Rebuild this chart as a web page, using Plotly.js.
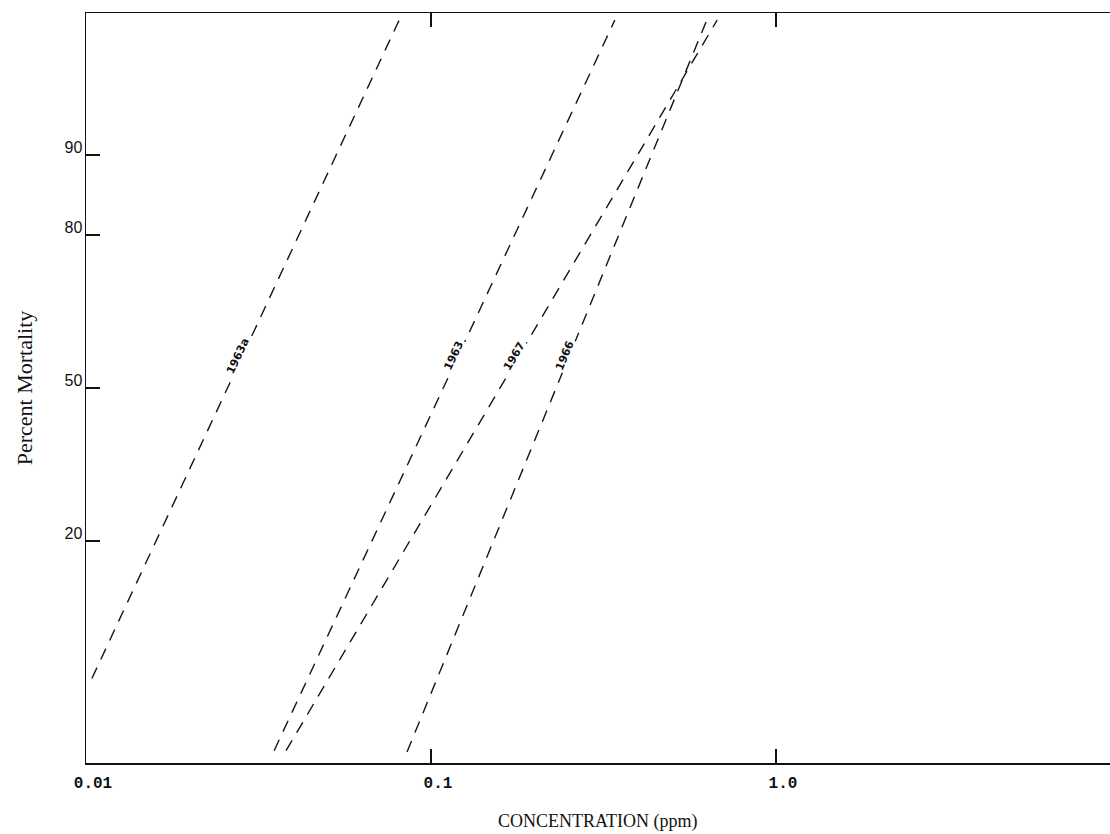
<!DOCTYPE html>
<html>
<head>
<meta charset="utf-8">
<script src="https://cdn.plot.ly/plotly-3.0.1.min.js"></script>
<style>
html,body{margin:0;padding:0;background:#fff;overflow:hidden;width:1110px;height:834px;}
#chart{width:1124px;height:834px;}
</style>
</head>
<body>
<div id="chart"></div>
<script>
// ---- data ----
const seriesNames = ['1963a', '1963', '1967', '1966'];
const conc1963a = [0.0104, 0.0813];
const pct1963a  = [5.5, 97.9];
const conc1963  = [0.0351, 0.341];
const pct1963   = [2.3, 97.85];
const conc1967  = [0.0380, 0.675];
const pct1967   = [2.3, 97.85];
const conc1966  = [0.0852, 0.627];
const pct1966   = [2.26, 97.8];

const xTickVals = [0.01, 0.1, 1];
const xTickText = ['0.01', '0.1', '1.0'];
const yTickPct  = [20, 50, 80, 90];
const yTickText = ['20', '50', '80', '90'];
const yRangePct = [1.955, 98.045];
const labelPct  = 57;

// inverse normal CDF (probit), Acklam's approximation
function probit(pct) {
  const p = pct / 100;
  const a = [-3.969683028665376e+01, 2.209460984245205e+02, -2.759285104469687e+02, 1.383577518672690e+02, -3.066479806614716e+01, 2.506628277459239e+00];
  const b = [-5.447609879822406e+01, 1.615858368580409e+02, -1.556989798598866e+02, 6.680131188771972e+01, -1.328068155288572e+01];
  const c = [-7.784894002430293e-03, -3.223964580411365e-01, -2.400758277161838e+00, -2.549732539343734e+00, 4.374664141464968e+00, 2.938163982698783e+00];
  const d = [7.784695709041462e-03, 3.224671290700398e-01, 2.445134137142996e+00, 3.754408661907416e+00];
  const pl = 0.02425, ph = 1 - pl;
  let q, r;
  if (p < pl) {
    q = Math.sqrt(-2 * Math.log(p));
    return (((((c[0]*q+c[1])*q+c[2])*q+c[3])*q+c[4])*q+c[5]) / ((((d[0]*q+d[1])*q+d[2])*q+d[3])*q+1);
  } else if (p <= ph) {
    q = p - 0.5; r = q * q;
    return (((((a[0]*r+a[1])*r+a[2])*r+a[3])*r+a[4])*r+a[5])*q / (((((b[0]*r+b[1])*r+b[2])*r+b[3])*r+b[4])*r+1);
  } else {
    q = Math.sqrt(-2 * Math.log(1 - p));
    return -(((((c[0]*q+c[1])*q+c[2])*q+c[3])*q+c[4])*q+c[5]) / ((((d[0]*q+d[1])*q+d[2])*q+d[3])*q+1);
  }
}

const allConc = [conc1963a, conc1963, conc1967, conc1966];
const allPct  = [pct1963a, pct1963, pct1967, pct1966];

// layout geometry (plot area runs past the right edge of the window, as in the scan)
const W = 1124, H = 834;
const mL = 86, mR = 0, mT = 13, mB = 71;
const plotW = W - mL - mR, plotH = H - mT - mB;
const xRangeLog = [-2, -2 + plotW / 345];
const yRange = [probit(yRangePct[0]), probit(yRangePct[1])];
const pxPerDecade = plotW / (xRangeLog[1] - xRangeLog[0]);
const pxPerZ = plotH / (yRange[1] - yRange[0]);
const titleShift = -(W - 1110) / 2;

const lineStyle = {color: '#151515', width: 1.4, dash: '12px,9px'};

const traces = seriesNames.map((name, i) => ({
  type: 'scatter',
  mode: 'lines',
  name: name,
  x: allConc[i],
  y: allPct[i].map(probit),
  line: lineStyle,
  hoverinfo: 'skip',
  showlegend: false
}));

// labels placed on each line at labelPct
const zLab = probit(labelPct);
const annotations = seriesNames.map((name, i) => {
  const lx = allConc[i].map(Math.log10);
  const z = allPct[i].map(probit);
  const t = (zLab - z[0]) / (z[1] - z[0]);
  const xLog = lx[0] + t * (lx[1] - lx[0]);
  const ang = Math.atan2((z[1] - z[0]) * pxPerZ, (lx[1] - lx[0]) * pxPerDecade) * 180 / Math.PI;
  return {
    xref: 'x', yref: 'y', x: xLog, y: zLab,
    text: name, showarrow: false,
    textangle: -ang,
    xshift: -4,
    font: {family: 'DejaVu Sans', size: 11, color: '#111', weight: 'bold'},
    bgcolor: '#ffffff', borderpad: 1
  };
});

// x-axis title as a paper annotation so it stays centred in the visible window
annotations.push({
  xref: 'paper', yref: 'paper',
  x: (1110 / 2 - mL + 43) / plotW, y: 0,
  yshift: -46, yanchor: 'top', xanchor: 'center',
  text: 'CONCENTRATION (ppm)', showarrow: false,
  font: {family: 'Liberation Serif', size: 18, color: '#111'}
});

const layout = {
  width: W, height: H,
  margin: {l: mL, r: mR, t: mT, b: mB, pad: 0},
  paper_bgcolor: '#ffffff',
  plot_bgcolor: '#ffffff',
  showlegend: false,
  xaxis: {
    type: 'log',
    range: xRangeLog,
    tickvals: xTickVals,
    ticktext: xTickText,
    ticks: 'inside', ticklen: 14, tickwidth: 1.5, tickcolor: '#111',
    showline: true, linecolor: '#111', linewidth: 1.5,
    mirror: 'ticks',
    showgrid: false, zeroline: false,
    tickfont: {family: 'Liberation Mono', size: 16, color: '#111', weight: 'bold'},
    ticklabelstandoff: 4,
    ticklabelshift: 7
  },
  yaxis: {
    range: yRange,
    tickvals: yTickPct.map(probit),
    ticktext: yTickText,
    ticks: 'inside', ticklen: 14, tickwidth: 1.2, tickcolor: '#111',
    showline: true, linecolor: '#111', linewidth: 1.5,
    showgrid: false, zeroline: false,
    tickfont: {family: 'Liberation Sans', size: 16, color: '#111'},
    ticklabelstandoff: -1,
    ticklabelshift: -8,
    title: {text: 'Percent Mortality', font: {family: 'Liberation Serif', size: 22, color: '#111'}, standoff: 26}
  },
  annotations: annotations
};

Plotly.newPlot('chart', traces, layout, {displayModeBar: false, staticPlot: true});
</script>
</body>
</html>
